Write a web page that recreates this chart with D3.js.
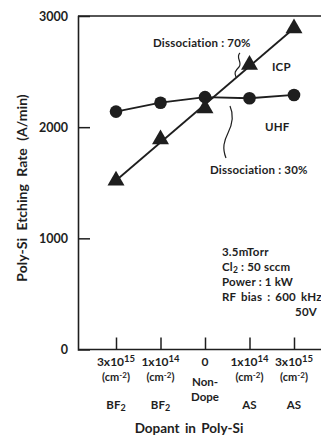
<!DOCTYPE html>
<html><head><meta charset="utf-8">
<script src="https://cdn.jsdelivr.net/npm/d3@7/dist/d3.min.js"></script>
<style>
html,body{margin:0;padding:0;background:#fff;}
svg{display:block;}
text{font-family:Lato,"Liberation Sans",sans-serif;font-weight:bold;fill:#1e1e1e;}
</style></head>
<body>
<svg id="chart" width="321" height="436"></svg>
<script>
// ---- data ----
const categories = ["BF2 3e15", "BF2 1e14", "Non-Dope", "AS 1e14", "AS 3e15"];
const doseLabels = [["3x10","15"],["1x10","14"],["0",""],["1x10","14"],["3x10","15"]];
const speciesLabels = ["BF", "BF", "", "AS", "AS"];
const uhfValues = [2140, 2220, 2270, 2260, 2290];
const icpValues = [1520, 1890, 2170, 2560, 2890];
const yTicks = [0, 1000, 2000, 3000];

const ink = "#1e1e1e";
const svg = d3.select("#chart");

const x = d3.scalePoint().domain(categories).range([116, 294]);
const y = d3.scaleLinear().domain([0, 3000]).range([349.5, 16]);
const x0 = 78, xEnd = 321;

// frame lines
svg.append("line").attr("x1", x0).attr("x2", xEnd).attr("y1", y(3000)).attr("y2", y(3000))
  .attr("stroke", ink).attr("stroke-width", 1.4);
svg.append("line").attr("x1", x0).attr("x2", xEnd).attr("y1", y(0)).attr("y2", y(0))
  .attr("stroke", ink).attr("stroke-width", 1.6);

// y axis
const yAxis = svg.append("g").attr("transform", `translate(${x0},0)`)
  .call(d3.axisLeft(y).tickValues(yTicks).tickSize(-12).tickPadding(10).tickFormat(d3.format("d")));
yAxis.select(".domain").attr("stroke", ink).attr("stroke-width", 1.6);
yAxis.selectAll(".tick line").attr("stroke", ink).attr("stroke-width", 1.5)
  .attr("display", d => (d === 0 || d === 3000) ? "none" : null);
yAxis.selectAll(".tick text").style("font-size", "12.5px").style("font-family", "Lato,sans-serif")
  .style("font-weight", "bold").attr("fill", ink);

// x axis ticks (upward)
const xAxis = svg.append("g").attr("transform", `translate(0,${y(0)})`)
  .call(d3.axisBottom(x).tickSize(-12).tickFormat(""));
xAxis.select(".domain").remove();
xAxis.selectAll(".tick line").attr("stroke", ink).attr("stroke-width", 1.5);

// x labels
const lab = svg.append("g");
categories.forEach((c, i) => {
  const cx = x(c);
  const t1 = lab.append("text").attr("x", cx).attr("y", 366).attr("text-anchor", "middle")
    .style("font-size", "12px");
  t1.append("tspan").text(doseLabels[i][0]);
  if (doseLabels[i][1]) t1.append("tspan").attr("dy", -4.5).style("font-size", "9.5px").text(doseLabels[i][1]);
  if (i === 2) {
    lab.append("text").attr("x", cx).attr("y", 386).attr("text-anchor", "middle").style("font-size", "11.5px").text("Non-");
    lab.append("text").attr("x", cx).attr("y", 401).attr("text-anchor", "middle").style("font-size", "11.5px").text("Dope");
  } else {
    const t2 = lab.append("text").attr("x", cx).attr("y", 381).attr("text-anchor", "middle").style("font-size", "11px");
    t2.append("tspan").text("(cm");
    t2.append("tspan").attr("dy", -3.5).style("font-size", "8px").text("-2");
    t2.append("tspan").attr("dy", 3.5).text(")");
    const t3 = lab.append("text").attr("x", cx).attr("y", 409).attr("text-anchor", "middle").style("font-size", "11.5px");
    t3.append("tspan").text(speciesLabels[i]);
    if (speciesLabels[i] === "BF") t3.append("tspan").attr("dy", 2).style("font-size", "9px").text("2");
  }
});

// axis titles
svg.append("text").attr("x", 189).attr("y", 433).attr("text-anchor", "middle")
  .style("font-size", "13.5px").style("word-spacing", "2px").text("Dopant in Poly-Si");
svg.append("text").attr("transform", "translate(27,188) rotate(-90)").attr("text-anchor", "middle")
  .style("font-size", "14px").style("word-spacing", "4px").text("Poly-Si Etching Rate (A/min)");

// UHF line + circles
const uhfData = categories.map((c, i) => ({c, v: uhfValues[i]}));
const icpData = categories.map((c, i) => ({c, v: icpValues[i]}));
svg.append("path").datum(uhfData)
  .attr("d", d3.line().x(d => x(d.c)).y(d => y(d.v)))
  .attr("fill", "none").attr("stroke", ink).attr("stroke-width", 1.8);
// ICP straight line from first to last point
svg.append("path").datum([icpData[0], icpData[icpData.length - 1]])
  .attr("d", d3.line().x(d => x(d.c)).y(d => y(d.v)))
  .attr("fill", "none").attr("stroke", ink).attr("stroke-width", 1.8);

svg.append("g").selectAll("circle").data(uhfData).join("circle")
  .attr("cx", d => x(d.c)).attr("cy", d => y(d.v)).attr("r", 6.3).attr("fill", ink);

const tri = d3.symbol().type(d3.symbolTriangle).size(125);
svg.append("g").selectAll("path").data(icpData).join("path")
  .attr("transform", d => `translate(${x(d.c)},${y(d.v)})`).attr("d", tri).attr("fill", ink);

// annotations
const ann = svg.append("g").style("font-size", "11.5px").style("letter-spacing", "0.2px");
ann.append("text").attr("x", 153).attr("y", 47).text("Dissociation : 70%");
ann.append("text").attr("x", 272).attr("y", 71).text("ICP");
ann.append("text").attr("x", 265).attr("y", 131).text("UHF");
ann.append("text").attr("x", 210).attr("y", 174).text("Dissociation : 30%");
svg.append("path").attr("d", "M240,53 C235,57 243,63 239,67 S234,73 236,77")
  .attr("fill", "none").attr("stroke", ink).attr("stroke-width", 1.2);
svg.append("path").attr("d", "M230,106 C234,115 232,125 228,133 S222,148 226,158")
  .attr("fill", "none").attr("stroke", ink).attr("stroke-width", 1.2);

// conditions block
const cond = svg.append("g").style("font-size", "11.5px").style("letter-spacing", "0.2px");
cond.append("text").attr("x", 222).attr("y", 256).text("3.5mTorr");
const cl = cond.append("text").attr("x", 222).attr("y", 271);
cl.append("tspan").text("Cl");
cl.append("tspan").attr("dy", 2).style("font-size", "8.5px").text("2");
cl.append("tspan").attr("dy", -2).text(" : 50 sccm");
cond.append("text").attr("x", 222).attr("y", 286).text("Power : 1 kW");
cond.append("text").attr("x", 222).attr("y", 301).style("word-spacing", "2px").text("RF bias : 600 kHz");
cond.append("text").attr("x", 317).attr("y", 316).attr("text-anchor", "end").text("50V");
</script>
</body></html>
